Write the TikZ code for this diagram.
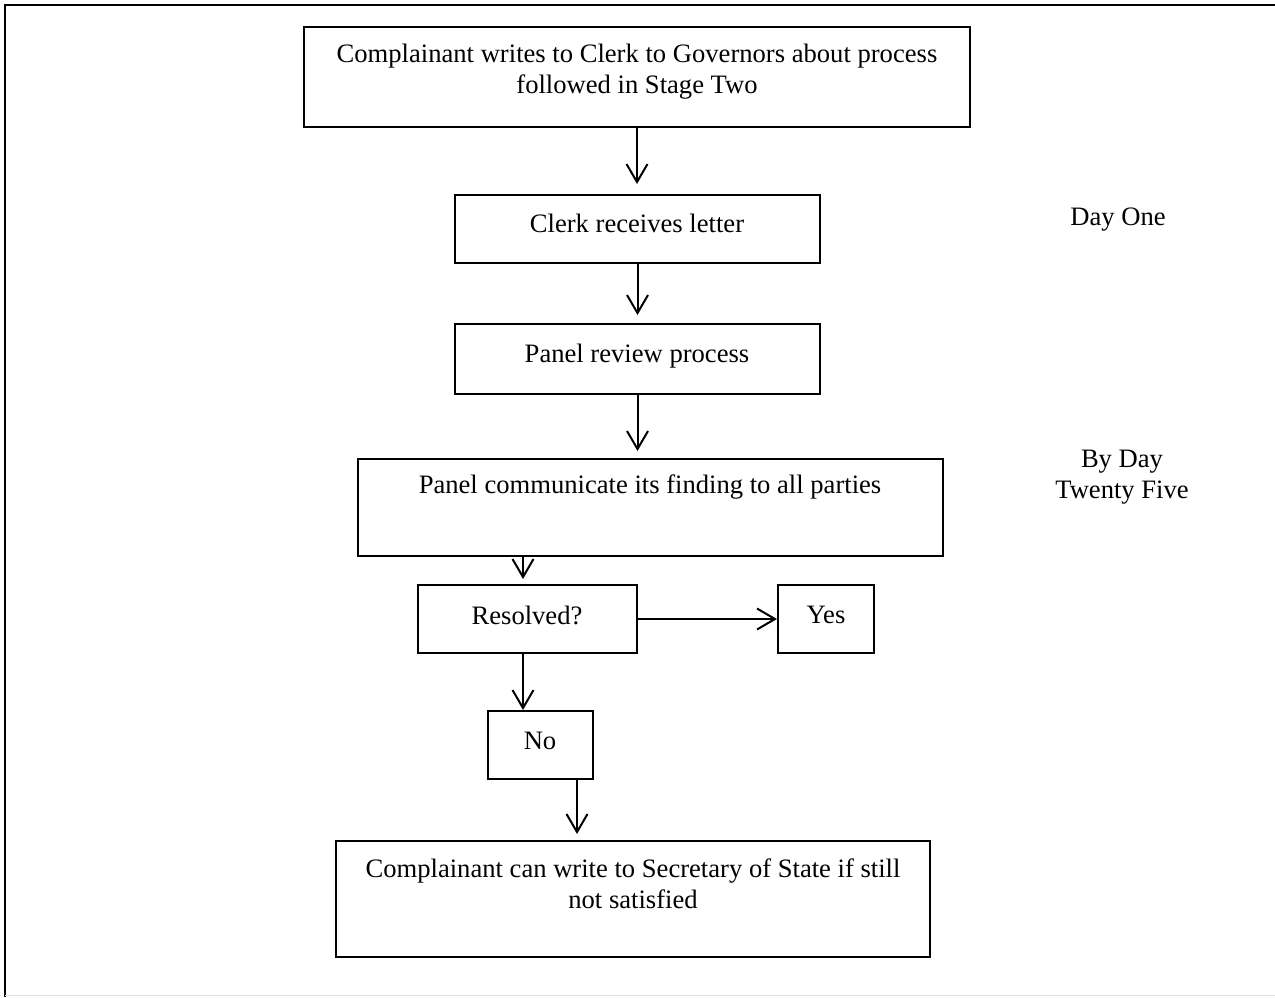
\documentclass[tikz,border=0pt]{standalone}
\usepackage{fontspec}
\setmainfont{Liberation Serif}
\usetikzlibrary{arrows.meta,calc,fit}
\begin{document}
\begin{tikzpicture}[x=0.5pt,y=-0.5pt,
  box/.style={draw=black,line width=1pt,inner sep=0pt,rectangle},
  txt/.style={font=\fontsize{13.3pt}{15.5pt}\selectfont,align=center,inner sep=0pt},
  arr/.style={line width=1pt,-{Straight Barb[length=9pt,width=10.5pt,line width=1pt]}}]
\useasboundingbox (0,0) rectangle (1275,997);
% frame
\draw[line width=1.2pt] (5,997) -- (5,5) -- (1275,5);
\draw[line width=0.6pt,black!12] (5,995.5) -- (1275,995.5);
% boxes
\node[box,fit={(304,27) (970,127)}] (b1) {};
\node[box,fit={(455,195) (820,263)}] (b2) {};
\node[box,fit={(455,324) (820,394)}] (b3) {};
\node[box,fit={(358,459) (943,556)}] (b4) {};
\node[box,fit={(418,585) (637,653)}] (b5) {};
\node[box,fit={(778,585) (874,653)}] (yes) {};
\node[box,fit={(488,711) (593,779)}] (b6) {};
\node[box,fit={(336,841) (930,957)}] (b7) {};
% texts
\node[txt] (t1) at (637,72) {Complainant writes to Clerk to Governors about process\\followed in Stage Two};
\node[txt] (t2) at (637,223) {Clerk receives letter};
\node[txt] (t3) at (637,356) {Panel review process};
\node[txt] (t4) at (650,487) {Panel communicate its finding to all parties};
\node[txt] (t5) at (527,615) {Resolved?};
\node[txt] (t6) at (826,615) {Yes};
\node[txt] (t7) at (540,741) {No};
\node[txt] (t8) at (633,884) {Complainant can write to Secretary of State if still\\not satisfied};
\node[txt] (d1) at (1118,220) {Day One};
\node[txt] (d2) at (1122,477) {By Day\\Twenty Five};
% connectors
\draw[arr,shorten >=5pt] (b1.south) -- (b1.south |- b2.north);
\draw[arr,shorten >=4pt] (b2.south) -- (b2.south |- b3.north);
\draw[arr,shorten >=3.5pt] (b3.south) -- (b3.south |- b4.north);
\coordinate (c4) at ($(b5.north)+(-4.5,0)$);
\draw[arr,shorten >=2.5pt] (b4.south -| c4) -- (c4);
\draw[arr] (b5.east) -- (yes.west);
\coordinate (c5) at ($(b5.south)+(-4.5,0)$);
\draw[arr] (c5) -- (c5 |- b6.north);
\coordinate (c6) at ($(b6.south)+(36.5,0)$);
\draw[arr,shorten >=3pt] (c6) -- (c6 |- b7.north);
\end{tikzpicture}
\end{document}
